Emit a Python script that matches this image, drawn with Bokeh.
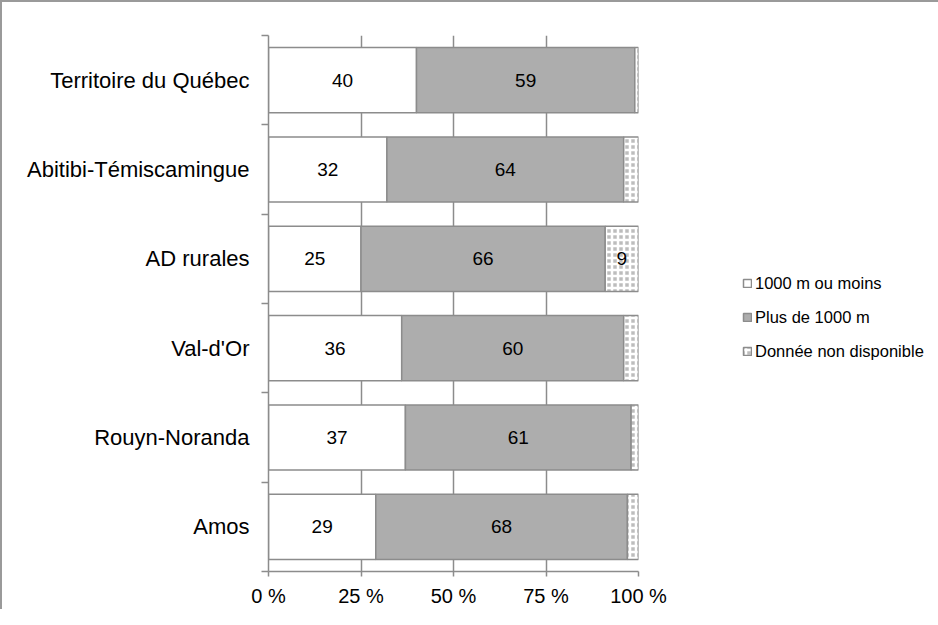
from bokeh.plotting import figure
from bokeh.models import ColumnDataSource, FixedTicker, Legend, LegendItem, LabelSet
from bokeh.core.properties import value
from bokeh.embed import file_html
from bokeh.resources import INLINE

categories = ["Amos", "Rouyn-Noranda", "Val-d'Or", "AD rurales", "Abitibi-Témiscamingue", "Territoire du Québec"]
moins_1000 = [29, 37, 36, 25, 32, 40]
plus_1000 = [68, 61, 60, 66, 64, 59]
non_dispo = [3, 2, 4, 9, 4, 1]
series_names = ["1000 m ou moins", "Plus de 1000 m", "Donnée non disponible"]
x_ticks = [0, 25, 50, 75, 100]
x_tick_labels = ["0 %", "25 %", "50 %", "75 %", "100 %"]

FONT = "Liberation Sans"
GRID = "#8c8c8c"

ypos = [i + 0.5 for i in range(len(categories))]
a_end = moins_1000
b_end = [a + b for a, b in zip(moins_1000, plus_1000)]
c_end = [b + c for b, c in zip(b_end, non_dispo)]

src = ColumnDataSource(dict(
    y=ypos,
    a0=[0] * len(categories), a1=a_end,
    b0=a_end, b1=b_end,
    c0=b_end, c1=c_end,
    am=[v / 2 for v in a_end],
    bm=[(a + b) / 2 for a, b in zip(a_end, b_end)],
    cm=[(b + c) / 2 for b, c in zip(b_end, c_end)],
    at=[str(v) for v in moins_1000],
    bt=[str(v) for v in plus_1000],
    ct=[str(v) if v >= 5 else "" for v in non_dispo],
))

p = figure(frame_width=370, frame_height=536, min_border_left=266, min_border_top=33,
           min_border_right=284, min_border_bottom=38,
           x_range=(0, 100), y_range=(0, len(categories)),
           output_backend="svg", toolbar_location=None)
p.styles = {"border-left": "2px solid #9a9a9a", "border-top": "2px solid #9a9a9a"}
p.outline_line_color = None
p.background_fill_color = "white"

H = 0.73
ra = p.hbar(y="y", left="a0", right="a1", height=H, source=src,
            fill_color="white", line_color=GRID, line_width=1.5)
rb = p.hbar(y="y", left="b0", right="b1", height=H, source=src,
            fill_color="#adadad", line_color=GRID, line_width=1.5)
rc = p.hbar(y="y", left="c0", right="c1", height=H, source=src,
            fill_color="#bdbdbd", line_color=GRID, line_width=1.5,
            hatch_pattern="+", hatch_color="white", hatch_weight=2.5, hatch_scale=6)

for col, txt in (("am", "at"), ("bm", "bt"), ("cm", "ct")):
    p.add_layout(LabelSet(x=col, y="y", text=txt, source=src, text_align="center",
                          text_baseline="middle", text_font=value(FONT),
                          text_font_size="19px", text_color="black"))

# axes
p.xaxis.ticker = FixedTicker(ticks=x_ticks)
p.xaxis.major_label_overrides = {t: l for t, l in zip(x_ticks, x_tick_labels)}
p.xaxis.major_label_text_font = FONT
p.xaxis.major_label_text_font_size = "20px"
p.xaxis.major_label_text_color = "black"
p.xaxis.major_tick_out = 5
p.xaxis.major_tick_in = 0
p.xaxis.minor_tick_line_color = None
p.xaxis.axis_line_color = GRID
p.xaxis.major_tick_line_color = GRID
p.xaxis.axis_line_width = 1.5
p.xaxis.major_tick_line_width = 1.5
p.xaxis.major_label_standoff = 8

p.yaxis.ticker = FixedTicker(ticks=ypos, minor_ticks=list(range(len(categories) + 1)))
p.yaxis.major_label_overrides = {y: c for y, c in zip(ypos, categories)}
p.yaxis.major_label_text_font = FONT
p.yaxis.major_label_text_font_size = "22px"
p.yaxis.major_label_text_color = "black"
p.yaxis.major_tick_line_color = None
p.yaxis.minor_tick_line_color = GRID
p.yaxis.minor_tick_line_width = 1.5
p.yaxis.minor_tick_out = 7
p.yaxis.minor_tick_in = 0
p.yaxis.axis_line_color = GRID
p.yaxis.axis_line_width = 1.5
p.yaxis.major_label_standoff = 12

p.xgrid.grid_line_color = GRID
p.xgrid.grid_line_width = 1.5
p.ygrid.grid_line_color = None

legend = Legend(items=[LegendItem(label=series_names[0], renderers=[ra]),
                       LegendItem(label=series_names[1], renderers=[rb]),
                       LegendItem(label=series_names[2], renderers=[rc])],
                location=(104, 210), orientation="vertical",
                glyph_width=10, glyph_height=10, label_height=20, spacing=14,
                label_standoff=3, padding=0, margin=0,
                label_text_font=FONT, label_text_font_size="16.5px",
                label_text_color="black", border_line_color=None,
                background_fill_alpha=0)
p.add_layout(legend, "right")

open("out.html", "w").write(file_html(p, INLINE))
